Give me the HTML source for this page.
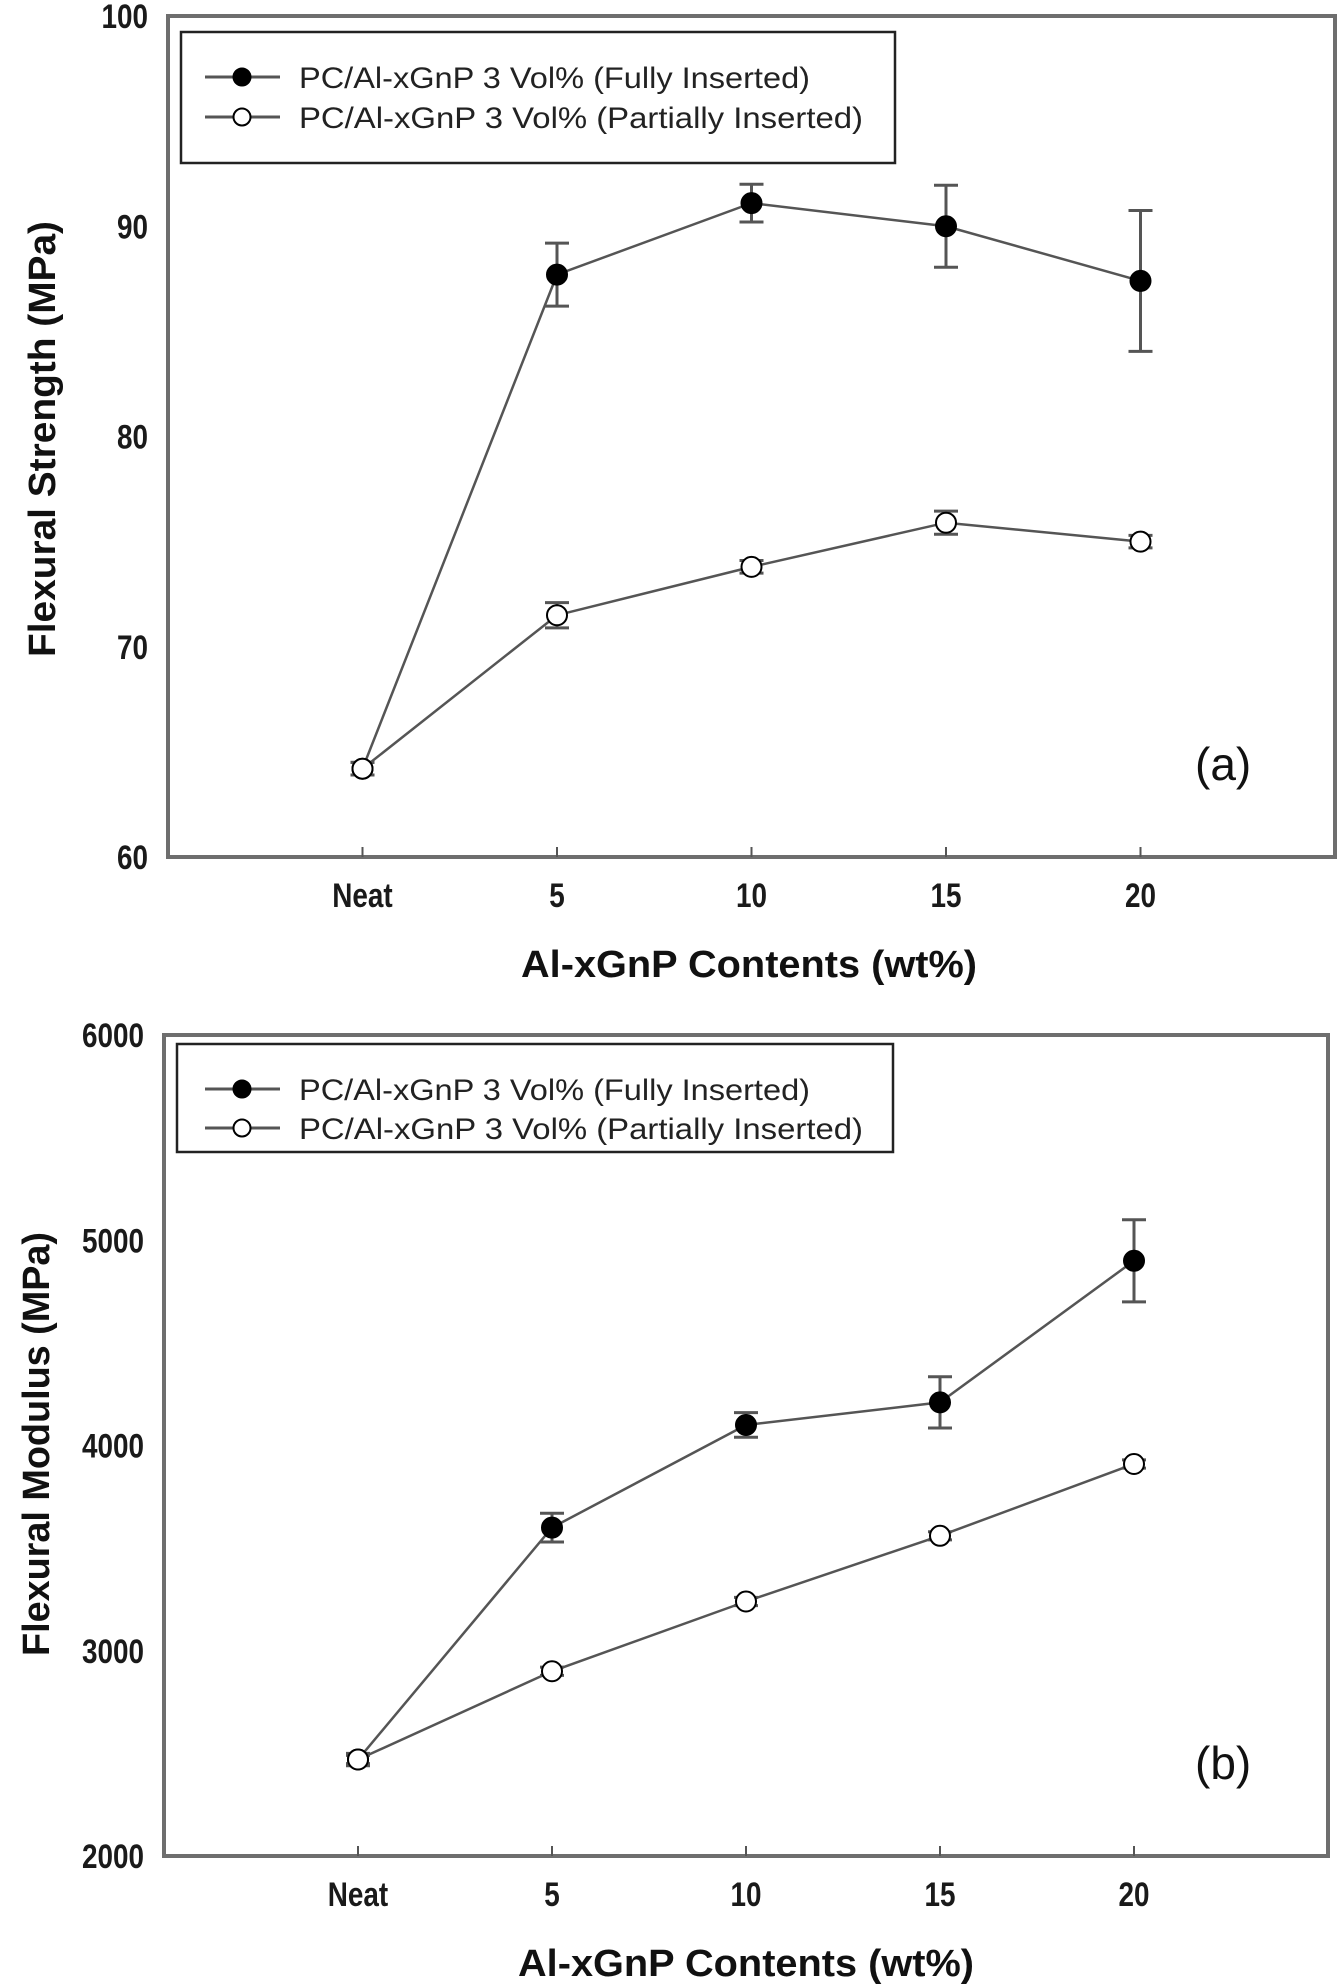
<!DOCTYPE html>
<html><head><meta charset="utf-8">
<style>
html,body{margin:0;padding:0;background:#fff;}
svg{display:block;}
text{font-family:"Liberation Sans",Arial,sans-serif;}
.tick{font-weight:bold;font-size:34px;fill:#1a1a1a;}
.title{font-weight:bold;font-size:38px;fill:#111;}
.leg{font-size:30px;fill:#222;}
.panel{font-size:46px;fill:#111;}
</style></head>
<body>
<svg id="fig" width="1339" height="1984" viewBox="0 0 1339 1984" xmlns="http://www.w3.org/2000/svg"></svg>
<script>
// ---------- data ----------
const categories = ["Neat", "5", "10", "15", "20"];
// Panel (a) flexural strength (MPa)
const strengthFully = [64.2, 87.7, 91.1, 90.0, 87.4];
const strengthFullyErr = [0.3, 1.5, 0.9, 1.95, 3.35];
const strengthPartial = [64.2, 71.5, 73.8, 75.9, 75.0];
const strengthPartialErr = [0.3, 0.6, 0.3, 0.55, 0.3];
const strengthTicks = [60, 70, 80, 90, 100];
// Panel (b) flexural modulus (MPa)
const modulusFully = [2470, 3600, 4100, 4210, 4900];
const modulusFullyErr = [30, 70, 60, 125, 200];
const modulusPartial = [2470, 2900, 3240, 3560, 3910];
const modulusPartialErr = [20, 20, 20, 20, 20];
const modulusTicks = [2000, 3000, 4000, 5000, 6000];

const NS = "http://www.w3.org/2000/svg";
const svg = document.getElementById("fig");
function el(tag, attrs, parent) {
  const e = document.createElementNS(NS, tag);
  for (const k in attrs) e.setAttribute(k, attrs[k]);
  (parent || svg).appendChild(e);
  return e;
}

function drawPanel(cfg) {
  const g = el("g", {});
  
  
  const L = cfg.left, R = cfg.right, T = cfg.top, B = cfg.bottom;
  const step = (R - L) / (categories.length + 1);
  const xs = i => L + (i + 1) * step;
  const ymin = cfg.ticks[0], ymax = cfg.ticks[cfg.ticks.length - 1];
  const ys = v => B - (v - ymin) / (ymax - ymin) * (B - T);

  const frame = el("rect", {x: L, y: T, width: R - L, height: B - T, fill: "none", stroke: "#6e6e6e", "stroke-width": 4}, g);
  
  

  cfg.ticks.forEach(t => {
    const ax = L - 20, ay = ys(t) + 12;
    const tx = el("text", {x: 0, y: 0, "text-anchor": "end", class: "tick", transform: `translate(${ax},${ay}) scale(0.82,1)`}, g);
    tx.textContent = t;
    
    
  });
  categories.forEach((c, i) => {
    const tk = el("line", {x1: xs(i), x2: xs(i), y1: B, y2: B - 10, stroke: "#555", "stroke-width": 2}, g);
    
    
    const tx = el("text", {x: 0, y: 0, "text-anchor": "middle", class: "tick", transform: `translate(${xs(i)},${B + 50}) scale(0.82,1)`}, g);
    tx.textContent = c;
    
    
  });
  const xt = el("text", {x: (cfg.xTitleX), y: cfg.xTitleY, "text-anchor": "middle", class: "title", textLength: 456, lengthAdjust: "spacingAndGlyphs"}, g);
  xt.textContent = "Al-xGnP Contents (wt%)";
  
  
  const yt = el("text", {x: 0, y: 0, "text-anchor": "middle", class: "title", textLength: cfg.yTitleLen, lengthAdjust: "spacingAndGlyphs", transform: `translate(${cfg.yTitleX},${cfg.yTitleY}) rotate(-90)`}, g);
  yt.textContent = cfg.yTitle;
  
  

  const series = [
    {vals: cfg.fully, err: cfg.fullyErr, fill: "#000", name: "fully-inserted"},
    {vals: cfg.partial, err: cfg.partialErr, fill: "#fff", name: "partially-inserted"}
  ];
  series.forEach(s => {
    const sg = el("g", {}, g);
    
    
    const pts = s.vals.map((v, i) => xs(i) + "," + ys(v)).join(" ");
    const pl = el("polyline", {points: pts, fill: "none", stroke: "#555", "stroke-width": 2.5}, sg);
    
    
    s.vals.forEach((v, i) => {
      const x = xs(i), yt2 = ys(v + s.err[i]), yb = ys(v - s.err[i]);
      const eb = el("path", {d: `M${x},${yt2}V${yb}M${x - 12},${yt2}H${x + 12}M${x - 12},${yb}H${x + 12}`, stroke: "#555", "stroke-width": 3, fill: "none"}, sg);
      
      
      const c = el("circle", {cx: x, cy: ys(v), r: 10, fill: s.fill, stroke: "#000", "stroke-width": 2}, sg);
      
      
    });
  });

  const lg = el("g", {}, g);
  
  
  el("rect", {x: cfg.legX, y: cfg.legY, width: cfg.legW, height: cfg.legH, fill: "#fff", stroke: "#222", "stroke-width": 2.5}, lg);
  const labels = ["PC/Al-xGnP 3 Vol% (Fully Inserted)", "PC/Al-xGnP 3 Vol% (Partially Inserted)"];
  const lens = [511, 564];
  labels.forEach((lab, k) => {
    const y = cfg.legRows[k];
    const eg = el("g", {}, lg);
    
    
    el("line", {x1: 205, x2: 280, y1: y, y2: y, stroke: "#555", "stroke-width": 3}, eg);
    el("circle", {cx: 242, cy: y, r: 8.5, fill: k === 0 ? "#000" : "#fff", stroke: "#000", "stroke-width": 2}, eg);
    const t = el("text", {x: 299, y: y + 11, class: "leg", textLength: lens[k], lengthAdjust: "spacingAndGlyphs"}, eg);
    t.textContent = lab;
  });
  const pt = el("text", {x: cfg.panelX, y: cfg.panelY, class: "panel"}, g);
  pt.textContent = cfg.panel;
  
  
}

drawPanel({
  name: "strength-chart", left: 168, right: 1335, top: 16, bottom: 857,
  ticks: strengthTicks, fully: strengthFully, fullyErr: strengthFullyErr,
  partial: strengthPartial, partialErr: strengthPartialErr,
  xTitleX: 749, xTitleY: 977, yTitle: "Flexural Strength (MPa)", yTitleX: 55, yTitleY: 439, yTitleLen: 436,
  legX: 181, legY: 32, legW: 714, legH: 131, legRows: [77, 117],
  panel: "(a)", panelX: 1195, panelY: 780
});
drawPanel({
  name: "modulus-chart", left: 164, right: 1328, top: 1035, bottom: 1856,
  ticks: modulusTicks, fully: modulusFully, fullyErr: modulusFullyErr,
  partial: modulusPartial, partialErr: modulusPartialErr,
  xTitleX: 746, xTitleY: 1976, yTitle: "Flexural Modulus (MPa)", yTitleX: 49, yTitleY: 1444, yTitleLen: 424,
  legX: 177, legY: 1044, legW: 716, legH: 108, legRows: [1089, 1128],
  panel: "(b)", panelX: 1195, panelY: 1779
});
</script>
</body></html>
